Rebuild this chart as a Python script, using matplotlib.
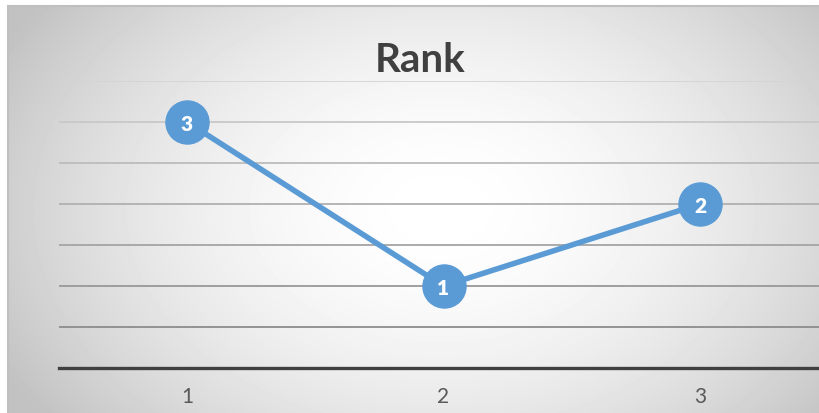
import numpy as np
import matplotlib
matplotlib.use("Agg")
import matplotlib.pyplot as plt

categories = ["1", "2", "3"]
rank = [3, 1, 2]
grid_levels = [0.5, 1.0, 1.5, 2.0, 2.5, 3.0, 3.5]

W, H = 819, 414
fig = plt.figure(figsize=(W / 100, H / 100), dpi=100)

# background: white margin at top/left, radial grey gradient inside
bg = fig.add_axes([0, 0, 1, 1])
bg.set_xlim(0, W)
bg.set_ylim(H, 0)
bg.axis("off")
yy, xx = np.mgrid[7:H, 8:W]
d = np.sqrt(((xx - 440) / 460.0) ** 2 + ((yy - 210) / 320.0) ** 2)
v = np.clip(1 - 0.21 * d ** 1.8, 0.76, 1.0)
bg.imshow(v, cmap="gray", vmin=0, vmax=1, extent=[8, W, H, 7],
          interpolation="bilinear", aspect="auto")
bg.plot([8, W], [7, 7], color="#bfbfbf", lw=1.5)
bg.plot([8, 8], [7, H], color="#bfbfbf", lw=1.5)

# plot area
left = 58.75 / W
width = 769.5 / W
bottom = (H - 369) / H
height = 287 / H
ax = fig.add_axes([left, bottom, width, height])
ax.patch.set_alpha(0)
ax.set_xlim(0.5, 3.5)
ax.set_ylim(0, 3.5)
for s in ax.spines.values():
    s.set_visible(False)

x = np.arange(1, len(categories) + 1)

# gridlines get darker towards the bottom
light = np.array([0.83, 0.83, 0.83])
dark = np.array([0.50, 0.50, 0.50])
for g in grid_levels:
    t = 1 - g / 3.5
    c = light + (dark - light) * t
    ax.axhline(g, color=c, lw=1.3, zorder=1)
ax.axhline(0, color="#404040", lw=2.4, zorder=2, clip_on=False)

ax.plot(x, rank, color="#5B9BD5", lw=4.0, marker="o", markersize=31,
        markerfacecolor="#5B9BD5", markeredgecolor="#5B9BD5",
        zorder=3, clip_on=False, solid_capstyle="round")
for xi, r in zip(x, rank):
    ax.text(xi, r, str(r), ha="center", va="center_baseline", color="white",
            fontsize=15, fontweight="heavy", family="Lato", zorder=4)

ax.set_yticks([])
ax.set_xticks(x)
ax.set_xticklabels(categories, fontsize=15, color="#595959", family="Lato")
ax.tick_params(axis="x", length=0, pad=13)

fig.text(420 / W, (H - 72) / H, "Rank", ha="center", va="baseline",
         fontsize=29, fontweight="bold", color="#404040", family="Lato")

fig.savefig("out.png", dpi=100)
